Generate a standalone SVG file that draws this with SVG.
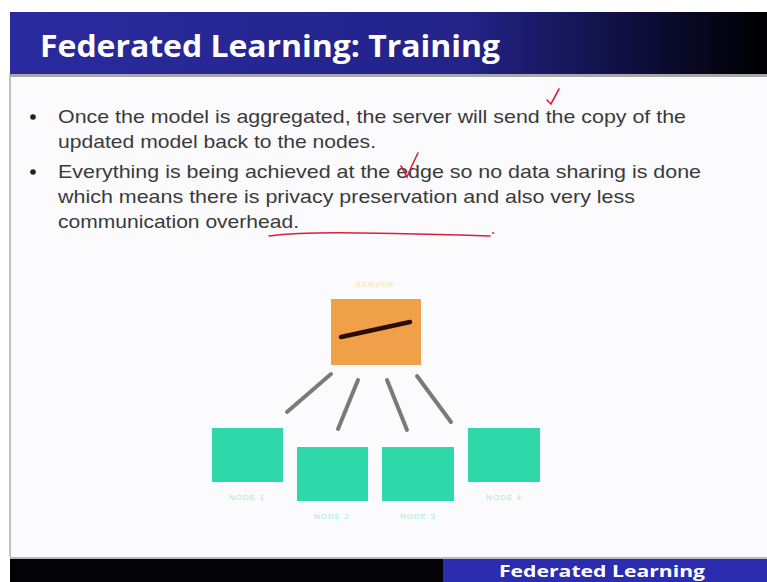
<svg xmlns="http://www.w3.org/2000/svg" width="767" height="582" viewBox="0 0 767 582">
<defs>
<linearGradient id="hdr" x1="0" y1="0" x2="1" y2="0">
<stop offset="0" stop-color="#2a2a9e"/>
<stop offset="0.6" stop-color="#23238a"/>
<stop offset="0.85" stop-color="#0c0c35"/>
<stop offset="1" stop-color="#000000"/>
</linearGradient>
<style>
.body{font-family:"Liberation Sans",Arial,sans-serif;font-size:18.5px;fill:#3a3a3a}
.node rect{fill:#2fd8a8}
.nlbl{font-family:"Liberation Sans",Arial,sans-serif;font-size:8px;fill:#a6e8d8;text-anchor:middle;letter-spacing:1px}
.conn line{stroke:#7a7a7a;stroke-width:4;stroke-linecap:round}
.red{fill:none;stroke:#d8203a;stroke-width:1.6;stroke-linecap:round}
</style>
</defs>
<rect width="767" height="582" fill="#ffffff"/>
<rect x="10" y="74" width="757" height="483" fill="#fbfbfd"/>
<line x1="10" y1="74" x2="10" y2="557" stroke="#b0b0b0" stroke-width="1.5"/>
<rect x="10" y="12" width="757" height="62" fill="url(#hdr)"/>
<rect x="10" y="74" width="757" height="3" fill="#a8a8a8"/>
<text x="40" y="57" font-family="'Open Sans','Liberation Sans',sans-serif" font-weight="bold" font-size="30" fill="#ffffff" textLength="460" lengthAdjust="spacingAndGlyphs">Federated Learning: Training</text>

<circle cx="33" cy="117" r="2.8" fill="#222"/>
<circle cx="33" cy="172" r="2.8" fill="#222"/>
<text class="body" x="58" y="123" textLength="628" lengthAdjust="spacingAndGlyphs">Once the model is aggregated, the server will send the copy of the</text>
<text class="body" x="58" y="148" textLength="318" lengthAdjust="spacingAndGlyphs">updated model back to the nodes.</text>
<text class="body" x="58" y="178" textLength="643" lengthAdjust="spacingAndGlyphs">Everything is being achieved at the edge so no data sharing is done</text>
<text class="body" x="58" y="203" textLength="577" lengthAdjust="spacingAndGlyphs">which means there is privacy preservation and also very less</text>
<text class="body" x="58" y="228" textLength="241" lengthAdjust="spacingAndGlyphs">communication overhead.</text>

<path class="red" d="M547,100 L551,104 L559,89"/>
<path class="red" d="M401,166 Q404,171 407,177 Q412,165 418,153"/>
<path class="red" d="M269,236 Q300,232 360,233 Q430,234 490,236"/>
<circle cx="493" cy="233" r="1" fill="#d8203a"/>

<g id="server">
<text x="375" y="287" font-family="'Liberation Sans',Arial,sans-serif" font-size="8" fill="#f2e4a8" text-anchor="middle" letter-spacing="1">SERVER</text>
<rect x="331" y="299" width="90" height="66" fill="#f0a048"/>
<line x1="341" y1="337" x2="410" y2="322" stroke="#2a0c04" stroke-width="4.5" stroke-linecap="round"/>
</g>

<g id="connectors" class="conn">
<line x1="331" y1="374" x2="287" y2="412"/>
<line x1="358" y1="380" x2="338" y2="429"/>
<line x1="387" y1="380" x2="407" y2="430"/>
<line x1="417" y1="376" x2="451" y2="422"/>
</g>

<g id="node1" class="node"><rect x="212" y="428" width="71" height="54"/><text class="nlbl" x="247" y="500">NODE 1</text></g>
<g id="node2" class="node"><rect x="297" y="447" width="71" height="54"/><text class="nlbl" x="332" y="519">NODE 2</text></g>
<g id="node3" class="node"><rect x="382" y="447" width="72" height="54"/><text class="nlbl" x="418" y="519">NODE 3</text></g>
<g id="node4" class="node"><rect x="468" y="428" width="72" height="54"/><text class="nlbl" x="504" y="500">NODE 4</text></g>

<rect x="10" y="557" width="757" height="2" fill="#b8b8c8"/>
<rect x="10" y="559" width="433" height="23" fill="#030308"/>
<rect x="443" y="559" width="324" height="23" fill="#2c2cb0"/>
<text x="499" y="577" font-family="'Open Sans','Liberation Sans',sans-serif" font-weight="bold" font-size="16" fill="#ffffff" textLength="206" lengthAdjust="spacingAndGlyphs">Federated Learning</text>
</svg>
